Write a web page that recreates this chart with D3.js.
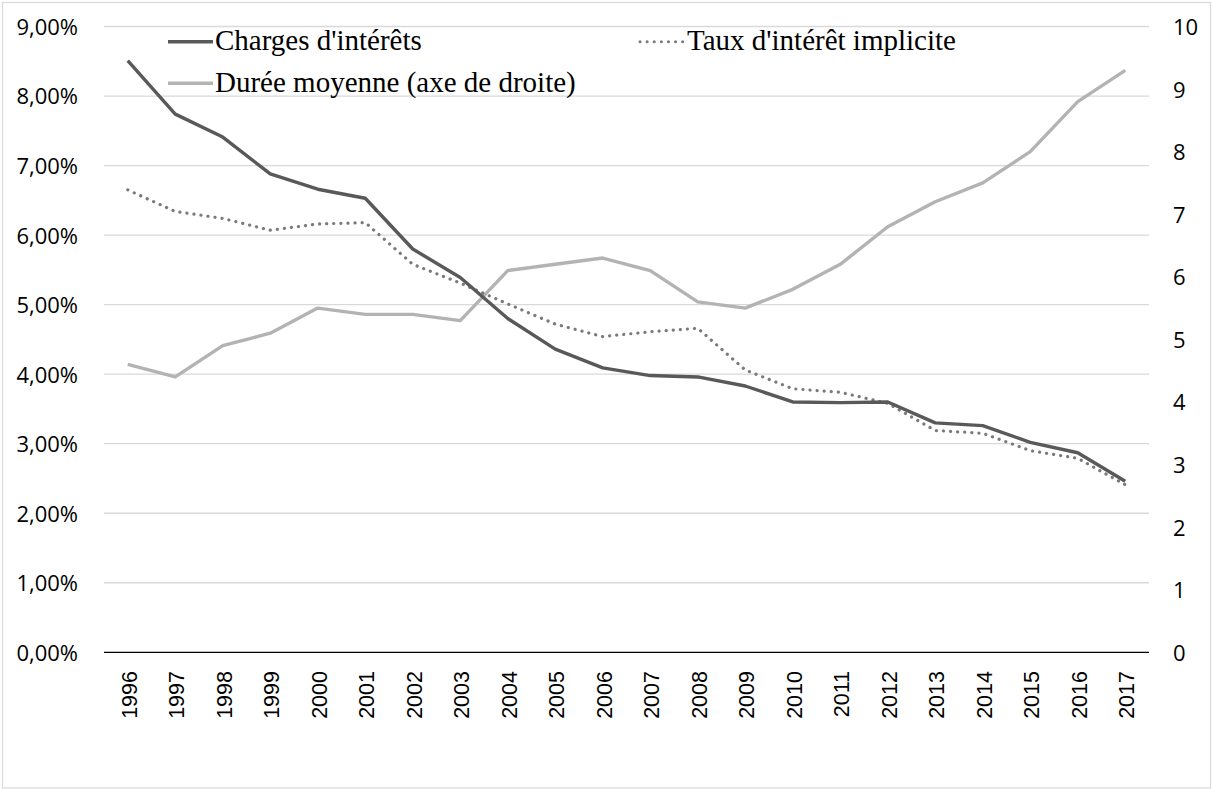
<!DOCTYPE html>
<html>
<head>
<meta charset="utf-8">
<script src="https://cdn.jsdelivr.net/npm/d3@7"></script>
<style>
  html, body { margin: 0; padding: 0; background: #fff; }
  svg { display: block; }
</style>
</head>
<body>
<svg id="chart" width="1212" height="789"></svg>
<script>
// Years on the category axis
const years = ["1996","1997","1998","1999","2000","2001","2002","2003","2004","2005","2006",
               "2007","2008","2009","2010","2011","2012","2013","2014","2015","2016","2017"];

// Charges d'intérêts (% , left axis)
const charges = [8.51, 7.74, 7.41, 6.88, 6.66, 6.53, 5.80, 5.39, 4.80, 4.36, 4.09,
                 3.98, 3.96, 3.83, 3.60, 3.59, 3.60, 3.30, 3.26, 3.02, 2.87, 2.46];

// Taux d'intérêt implicite (% , left axis)
const taux = [6.65, 6.34, 6.24, 6.07, 6.16, 6.18, 5.58, 5.31, 5.01, 4.72, 4.54,
              4.61, 4.66, 4.06, 3.79, 3.74, 3.58, 3.19, 3.15, 2.90, 2.79, 2.41];

// Durée moyenne (years, right axis)
const duree = [4.6, 4.4, 4.9, 5.1, 5.5, 5.4, 5.4, 5.3, 6.1, 6.2, 6.3,
               6.1, 5.6, 5.5, 5.8, 6.2, 6.8, 7.2, 7.5, 8.0, 8.8, 9.3];

// Tick values of both value axes
const leftTicks = [0, 1, 2, 3, 4, 5, 6, 7, 8, 9];
const rightTicks = [0, 1, 2, 3, 4, 5, 6, 7, 8, 9, 10];

const svg = d3.select("#chart");

const plot = { left: 104, right: 1149, top: 26.5, bottom: 652.3 };

const x = d3.scalePoint().domain(years).range([plot.left, plot.right]).padding(0.5);
const yLeft = d3.scaleLinear().domain([0, 9]).range([plot.bottom, plot.top]);
const yRight = d3.scaleLinear().domain([0, 10]).range([plot.bottom, plot.top]);

// Chart frame
svg.append("rect")
  .attr("x", 2.5).attr("y", 2.5)
  .attr("width", 1208).attr("height", 785.5)
  .attr("fill", "#fff")
  .attr("stroke", "#d9d9d9")
  .attr("stroke-width", 1.2);

// Horizontal gridlines
svg.append("g")
  .selectAll("line")
  .data(leftTicks.filter(d => d > 0))
  .join("line")
  .attr("x1", plot.left).attr("x2", plot.right)
  .attr("y1", d => yLeft(d)).attr("y2", d => yLeft(d))
  .attr("stroke", "#d9d9d9")
  .attr("stroke-width", 1.3);

// Category axis line
svg.append("line")
  .attr("x1", plot.left).attr("x2", plot.right)
  .attr("y1", plot.bottom).attr("y2", plot.bottom)
  .attr("stroke", "#000")
  .attr("stroke-width", 1.3);

const pct = d => d3.format(".2f")(d).replace(".", ",") + "%";

// Left axis labels
const leftAxis = d3.axisLeft(yLeft).tickValues(leftTicks).tickSize(0).tickPadding(0).tickFormat(pct);
const gl = svg.append("g").attr("transform", "translate(78,0)").call(leftAxis);
gl.select(".domain").remove();
gl.selectAll("text")
  .attr("font-family", "'Open Sans', sans-serif")
  .attr("font-size", "22px")
  .attr("fill", "#000")
  .attr("text-anchor", "end")
  .attr("dy", "0.36em");

// Right axis labels
const rightAxis = d3.axisRight(yRight).tickValues(rightTicks).tickSize(0).tickPadding(0).tickFormat(d3.format("d"));
const gr = svg.append("g").attr("transform", "translate(1173,0)").call(rightAxis);
gr.select(".domain").remove();
gr.selectAll("text")
  .attr("font-family", "'Open Sans', sans-serif")
  .attr("font-size", "22px")
  .attr("fill", "#000")
  .attr("text-anchor", "start")
  .attr("dy", "0.36em");

// Year labels, rotated
svg.append("g")
  .selectAll("text")
  .data(years)
  .join("text")
  .attr("transform", d => `translate(${x(d) + 9},671) rotate(-90)`)
  .attr("text-anchor", "end")
  .attr("font-family", "'Liberation Sans', Arial, sans-serif")
  .attr("font-size", "21.5px")
  .attr("fill", "#000")
  .text(d => d);

// Series lines
const lineLeft = d3.line().x((d, i) => x(years[i])).y(d => yLeft(d));
const lineRight = d3.line().x((d, i) => x(years[i])).y(d => yRight(d));

svg.append("path")
  .datum(duree)
  .attr("d", lineRight)
  .attr("fill", "none")
  .attr("stroke", "#b3b3b3")
  .attr("stroke-width", 3.4)
  .attr("stroke-linejoin", "round");

svg.append("path")
  .datum(taux)
  .attr("d", lineLeft)
  .attr("fill", "none")
  .attr("stroke", "#7a7a7a")
  .attr("stroke-width", 3.2)
  .attr("stroke-linecap", "round")
  .attr("stroke-dasharray", "0.1 7");

svg.append("path")
  .datum(charges)
  .attr("d", lineLeft)
  .attr("fill", "none")
  .attr("stroke", "#595959")
  .attr("stroke-width", 3.4)
  .attr("stroke-linejoin", "round");

// Legend
const legendItems = [
  { label: "Charges d'intérêts", x: 168, y: 41.7, color: "#595959", dash: null },
  { label: "Taux d'intérêt implicite", x: 640, y: 41.7, color: "#7a7a7a", dash: "0.1 7" },
  { label: "Durée moyenne (axe de droite)", x: 168, y: 83.3, color: "#b3b3b3", dash: null }
];

const lg = svg.append("g");
legendItems.forEach(it => {
  const l = lg.append("line")
    .attr("x1", it.x).attr("x2", it.x + 45)
    .attr("y1", it.y).attr("y2", it.y)
    .attr("stroke", it.color)
    .attr("stroke-width", 3.4);
  if (it.dash) {
    l.attr("stroke-dasharray", it.dash).attr("stroke-linecap", "round").attr("stroke-width", 3);
  }
  lg.append("text")
    .attr("x", it.x + 47)
    .attr("y", it.y + 8.4)
    .attr("font-family", "'Liberation Serif', 'Times New Roman', serif")
    .attr("font-size", "29px")
    .attr("fill", "#000")
    .text(it.label);
});
</script>
</body>
</html>
